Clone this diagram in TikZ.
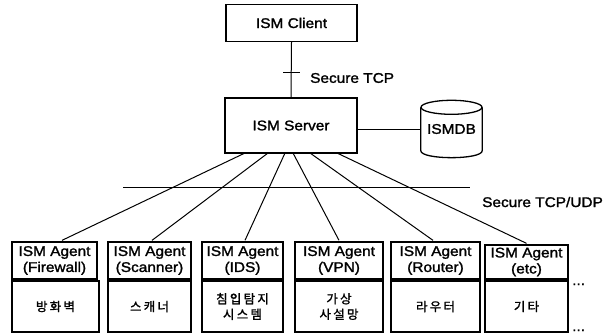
\documentclass[tikz,border=0pt]{standalone}
\usepackage{fontspec}
\setmainfont{Liberation Sans}[FakeStretch=1.1,FakeBold=1.6]
\newfontfamily\kr{Noto Sans CJK KR}[LetterSpace=18,FakeBold=1.4]
\begin{document}
\begin{tikzpicture}[x=1pt,y=-1pt,
  box/.style={draw,line width=1.3pt,inner sep=0pt,align=center},
  conn/.style={line width=1pt},
  lbl/.style={inner sep=0pt,font=\fontsize{14}{16}\selectfont},
  agent/.style={box,minimum height=37pt,font=\fontsize{14}{16}\selectfont},
  kbox/.style={box,minimum height=51pt,font=\kr\fontsize{12.5}{15.5}\selectfont}]
\useasboundingbox[fill=white] (0,0) rectangle (612,334);
% top
\node[box,minimum width=131pt,minimum height=37pt,font=\fontsize{14}{16}\selectfont] (cl) at (291.5,23) {ISM Client};
\node[box,minimum width=132pt,minimum height=55pt,font=\fontsize{14}{16}\selectfont] (srv) at (291,125.5) {ISM Server};
\draw[conn] (cl.south) -- (srv.north);
\coordinate (tk) at (291,73);
\draw[conn] ([xshift=-8pt]tk) -- ([xshift=9pt]tk);
\node[lbl,anchor=west] (tcp) at (310,78) {Secure TCP};
% database
\node[inner sep=0pt,minimum width=61pt,minimum height=57pt,font=\fontsize{14}{16}\selectfont] (db) at (451.5,129) {ISMDB};
\draw[line width=1.3pt] (db.north) ++(0,7) ellipse [x radius=30.5, y radius=7];
\draw[line width=1.3pt] ([yshift=-7pt]db.north west) -- ([yshift=7pt]db.south west)
   .. controls ([yshift=-2.3pt]db.south west) and ([yshift=-2.3pt]db.south east) .. ([yshift=7pt]db.south east)
   -- ([yshift=-7pt]db.north east);
\draw[conn] (db.west -| srv.east) -- (db.west);
% bus
\coordinate (bl) at (123,187);
\coordinate (br) at (470,187);
\draw[conn] (bl) -- (br);
\node[lbl,anchor=west] (udp) at (482,202) {Secure TCP/UDP};
% agents
\node[agent,minimum width=85pt] (a1) at (54.5,260.5) {ISM Agent\\(Firewall)};
\node[agent,minimum width=83pt] (a2) at (149.5,260.5) {ISM Agent\\(Scanner)};
\node[agent,minimum width=81pt] (a3) at (242.5,260.5) {ISM Agent\\(IDS)};
\node[agent,minimum width=88pt] (a4) at (339,260.5) {ISM Agent\\(VPN)};
\node[agent,minimum width=89pt] (a5) at (435.5,260.5) {ISM Agent\\(Router)};
\node[agent,minimum width=83pt,minimum height=34pt] (a6) at (526.5,262) {ISM Agent\\(etc)};
% korean boxes
\node[kbox,minimum width=87pt] (k1) at (55.5,306.5) {방화벽};
\node[kbox,minimum width=83pt] (k2) at (149.5,306.5) {스캐너};
\node[kbox,minimum width=81pt] (k3) at (242.5,306.5) {침입탐지\\시스템};
\node[kbox,minimum width=88pt] (k4) at (339,306.5) {가상\\사설망};
\node[kbox,minimum width=89pt] (k5) at (435.5,306.5) {라우터};
\node[kbox,minimum width=83pt] (k6) at (526.5,306.5) {기타};
% dots
\node[lbl,anchor=base west] (d1) at (572,285) {...};
\node[lbl,anchor=base west] (d2) at (572,331) {...};
% connectors server -> agents
\coordinate (s1) at (245,153);
\coordinate (s2) at (268,153);
\coordinate (s3) at (285,153);
\coordinate (s4) at (293,153);
\coordinate (s5) at (310,153);
\coordinate (s6) at (337,153);
\draw[conn] (s1) -- ([xshift=7.5pt,yshift=1pt]a1.north);
\draw[conn] (s2) -- ([xshift=2.5pt,yshift=1pt]a2.north);
\draw[conn] (s3) -- ([xshift=2.5pt,yshift=1pt]a3.north);
\draw[conn] (s4) -- ([yshift=1pt]a4.north);
\draw[conn] (s5) -- ([xshift=-2.5pt,yshift=1pt]a5.north);
\draw[conn] (s6) -- ([yshift=1pt]a6.north);
\end{tikzpicture}
\end{document}
